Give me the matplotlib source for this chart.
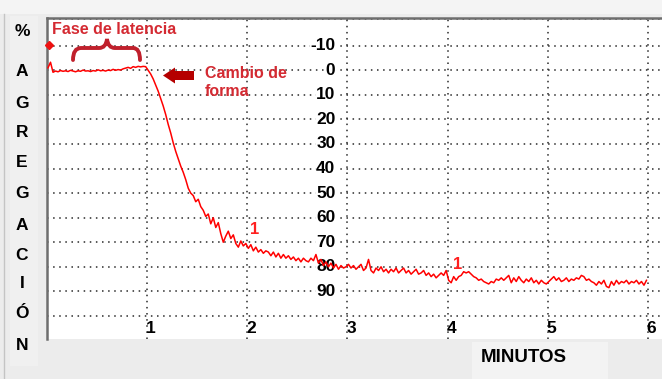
import numpy as np
import matplotlib
matplotlib.use("Agg")
import matplotlib.pyplot as plt
from matplotlib.path import Path
from matplotlib.patches import PathPatch, Polygon, Rectangle
from matplotlib.transforms import Affine2D

# ---------------- data ----------------
t_start = 0.01
t_step = 0.025
agregacion = [
    -1.0, -3.3, 0.8, 0.3, 0.6, 0.1, 0.4, 0.2,
    0.5, 0.0, 0.3, 0.6, 0.2, 0.4, -0.1, 0.3,
    0.2, 0.5, 0.1, 0.3, -0.2, 0.2, 0.0, 0.3,
    -0.1, 0.1, -0.4, 0.0, -0.3, -0.1, -0.6, -0.9,
    -1.2, -0.8, -1.5, -1.2, -1.6, -1.4, -1.6, -1.5,
    0.0, 1.5, 3.5, 6.0, 8.5, 11.5, 14.5, 18.0,
    22.0, 25.5, 29.5, 33.0, 36.0, 39.0, 41.5, 44.5,
    48.0, 50.0, 51.0, 53.5, 52.5, 55.5, 57.0, 59.5,
    58.5, 62.5, 60.0, 64.0, 62.0, 66.5, 70.0, 67.5,
    65.5, 68.5, 67.0, 70.5, 72.0, 69.5, 71.5, 70.5,
    72.5, 71.0, 73.5, 72.0, 74.0, 73.0, 74.5, 73.5,
    74.0, 75.5, 74.0, 76.0, 74.5, 76.5, 75.0, 76.5,
    75.5, 77.0, 76.0, 77.5, 76.5, 78.0, 76.5, 77.5,
    78.0, 76.5, 77.5, 75.0, 78.5, 77.0, 79.5, 78.0,
    80.0, 78.5, 80.5, 79.0, 81.0, 79.5, 80.5, 80.0,
    79.0, 80.5, 79.5, 81.0, 80.0, 79.0, 81.5, 80.5,
    77.0, 81.5, 82.5, 80.5, 81.5, 80.0, 82.0, 81.0,
    82.5, 81.0, 82.0, 80.5, 82.5, 81.5, 80.5, 82.5,
    81.5, 83.0, 82.0, 81.0, 83.0, 82.5, 81.5, 83.5,
    82.5, 84.0, 83.0, 84.5, 83.5, 82.5, 83.5, 81.5,
    85.5, 86.5, 84.0, 85.5, 84.0, 83.5, 82.0, 82.5,
    82.0, 83.0, 84.0, 84.5, 85.5, 85.0, 86.0, 86.5,
    87.0, 86.0, 86.5, 85.0, 85.5, 84.5, 85.5, 84.5,
    83.5, 86.5, 84.5, 86.0, 84.0, 85.5, 86.5, 85.0,
    86.0, 84.5, 86.5, 85.5, 87.0, 85.5, 86.5, 87.0,
    86.0, 85.0, 84.0, 85.5, 84.5, 86.0, 85.5, 84.5,
    86.0, 85.0, 85.5, 84.5, 85.0, 83.5, 84.0, 85.5,
    85.0, 86.0, 86.5, 87.5, 86.0, 87.0, 85.5, 88.0,
    88.5, 86.0, 87.5, 85.5, 87.0, 86.0, 86.5, 85.5,
    87.0, 86.0, 86.5, 85.5, 87.0, 86.0, 87.5, 85.5,
]
minutos = t_start + t_step * np.arange(len(agregacion))

marker_t = [0.02]
marker_v = [-10.5]

y_ticks = [-10, 0, 10, 20, 30, 40, 50, 60, 70, 80, 90]
y_grid = [-10, 0, 10, 20, 30, 40, 50, 60, 70, 80, 90, 100]
x_ticks = [1, 2, 3, 4, 5, 6]
side_letters = ["%", "A", "G", "R", "E", "G", "A", "C", "I", "Ó", "N"]
side_y_px = [32, 72, 103, 133, 163, 193, 225, 255, 284, 314, 346]
marks_1 = [(2.07, 65.0), (4.095, 79.0)]

# ---------------- figure ----------------
W, H = 662, 379
fig = plt.figure(figsize=(W / 100, H / 100), dpi=100, facecolor="#ececec")
px = Affine2D().scale(1 / W, -1 / H).translate(0, 1) + fig.transFigure

def fx(x):
    return x / W

def fy(y):
    return 1 - y / H

# light panels
fig.add_artist(Rectangle((10, 16), 28, 350, transform=px, facecolor="#f0f0f0",
                         edgecolor="none", zorder=0))
fig.add_artist(Rectangle((472, 342), 136, 40, transform=px, facecolor="#f3f3f3",
                         edgecolor="none", zorder=0))
fig.add_artist(Rectangle((0, 0), W, 14, transform=px, facecolor="#f4f4f4",
                         edgecolor="none", zorder=0))
fig.add_artist(plt.Line2D([4, 4], [14, 379], transform=px, color="#c4c4c4", lw=1))

ax = fig.add_axes([47 / W, 1 - 339 / H, 1 - 47 / W, (339 - 18) / H])
ax.set_facecolor("white")
ax.set_xlim(0, 6.14)
ax.set_ylim(109.4, -21.3)
ax.set_xticks([])
ax.set_yticks([])
for s in ["right", "bottom"]:
    ax.spines[s].set_visible(False)
for s in ["left", "top"]:
    ax.spines[s].set_color("#6e6e6e")
    ax.spines[s].set_linewidth(1.8)

grid_kw = dict(color="#2a2a2a", lw=1.1, ls=(0, (1, 3.0)), zorder=1)
for g in y_grid:
    ax.axhline(g, **grid_kw)
for g in x_ticks:
    ax.axvline(g, **grid_kw)
ax.axhline(-21.0, **grid_kw)

ax.plot(minutos, agregacion, color="#ff0000", lw=1.1, zorder=3)
ax.plot(marker_t, marker_v, "D", color="#ee1111", ms=4, zorder=4, clip_on=False)

lab_font = dict(family=["Liberation Sans", "DejaVu Sans"], weight="bold")
for v in y_ticks:
    ax.text(2.88, v, str(v), ha="right", va="center", fontsize=12.5, color="black",
            zorder=2, bbox=dict(facecolor="white", edgecolor="none", pad=0.2), **lab_font)
for x in x_ticks:
    ax.text(x + 0.035, 105.3, str(x), ha="center", va="center", fontsize=12.5,
            color="black", zorder=2, **lab_font)

for (xt, yv) in marks_1:
    ax.text(xt, yv, "1", ha="center", va="center", fontsize=12, color="#ff2020",
            zorder=4, **lab_font)

# side labels
for ch, yp in zip(side_letters, side_y_px):
    fig.text(fx(22), fy(yp), ch, ha="center", va="center", fontsize=12.5,
             color="black", **lab_font)
fig.text(fx(524), fy(357), "MINUTOS", ha="center", va="center", fontsize=13.5,
         color="black", **lab_font)

# annotations
red_txt = "#d42a32"
fig.text(fx(52), fy(30), "Fase de latencia", ha="left", va="center", fontsize=11.5,
         color=red_txt, **lab_font)
fig.text(fx(205), fy(74), "Cambio de", ha="left", va="center", fontsize=11.5,
         color=red_txt, **lab_font)
fig.text(fx(205), fy(92), "forma", ha="left", va="center", fontsize=11.5,
         color=red_txt, **lab_font)

verts = [(73, 60), (73, 48), (81, 48), (99, 48), (106, 48), (107, 39),
         (108, 48), (115, 48), (133, 48), (140, 48), (140, 60)]
codes = [Path.MOVETO, Path.CURVE3, Path.CURVE3, Path.LINETO, Path.CURVE3, Path.CURVE3,
         Path.CURVE3, Path.CURVE3, Path.LINETO, Path.CURVE3, Path.CURVE3]
fig.add_artist(PathPatch(Path(verts, codes), transform=px, facecolor="none",
                         edgecolor="#c0202c", lw=2.8, capstyle="round", zorder=5))

arrow = [(163, 75.5), (175, 67.5), (175, 71), (194, 71), (194, 80), (175, 80), (175, 83.5)]
fig.add_artist(Polygon(arrow, closed=True, transform=px, facecolor="#b50000",
                       edgecolor="none", zorder=5))

fig.savefig("out.png", dpi=100, facecolor=fig.get_facecolor())
